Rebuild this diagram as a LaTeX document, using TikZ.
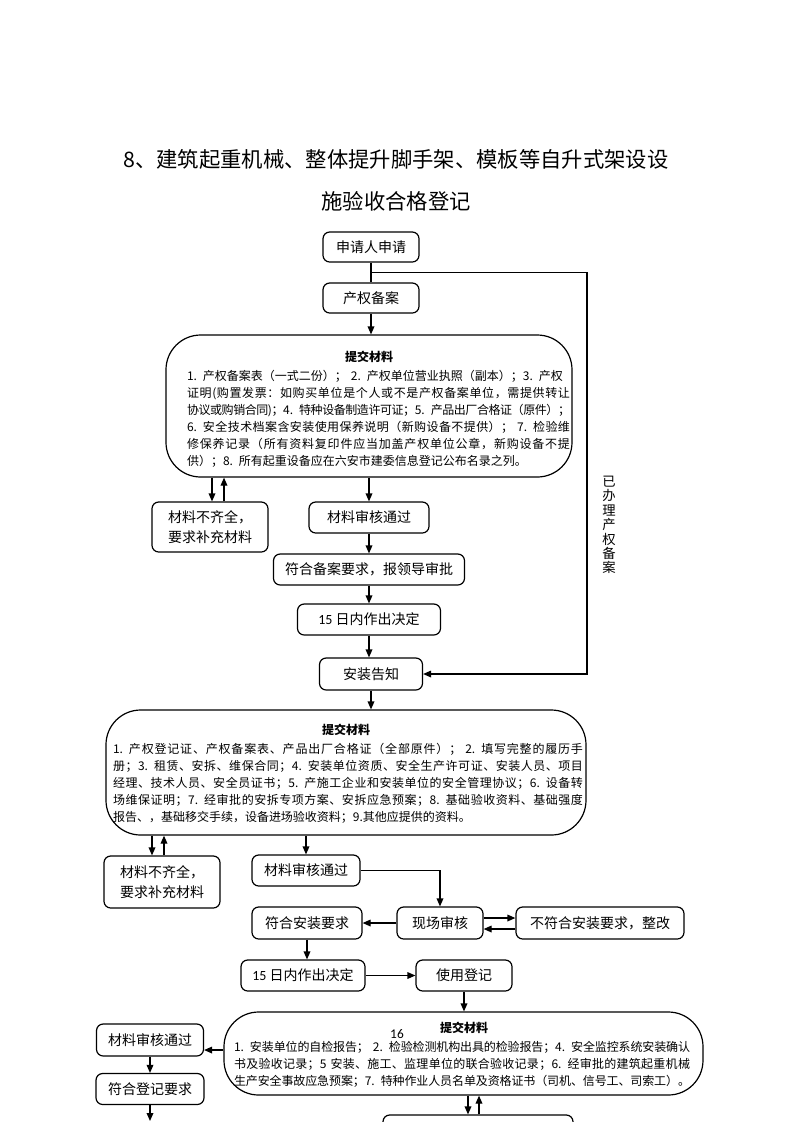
\documentclass[tikz,border=0pt]{standalone}
\usepackage{fontspec}
\setmainfont{Noto Sans CJK SC}
\newfontfamily\carl{Carlito}
\usetikzlibrary{arrows.meta}
% inter-character glue so that CJK lines can be justified
\XeTeXinterchartokenstate=1
\newcount\cjkc
\def\setcjk#1#2{\cjkc=#1 \loop \XeTeXcharclass\cjkc=7 \advance\cjkc by 1 \ifnum\cjkc<#2 \repeat}
\setcjk{"4E00}{"A000}
\setcjk{"3000}{"3040}
\setcjk{"FF00}{"FFF0}
\XeTeXinterchartoks 7 7 = {\hskip 0pt plus 2pt minus 0.6pt\relax}
\XeTeXinterchartoks 7 0 = {\hskip 0pt plus 2pt minus 0.6pt\relax}
\XeTeXinterchartoks 0 7 = {\hskip 0pt plus 2pt minus 0.6pt\relax}
\newcommand\jline[1]{\par\noindent\hbox to\linewidth{#1}}
\newcommand\lline[1]{\par\noindent\hbox to\linewidth{#1\hfil}}
\tikzset{
  wh/.style 2 args={minimum width=#1*0.75pt, minimum height=#2*0.75pt},
  sbox/.style={draw=black, line width=0.9pt, rounded corners=5pt, inner sep=0pt,
    font=\fontsize{10.5}{15.5}\selectfont, align=center},
  bbox/.style={draw=black, line width=0.9pt, rounded corners=26pt, inner sep=0pt},
  arr/.style={line width=0.9pt, -{Triangle[length=6pt,width=5pt]}},
  ln/.style={line width=0.9pt},
  btext/.style={inner sep=0pt, anchor=north, font=\fontsize{9}{12.75}\selectfont},
  bhead/.style={inner sep=0pt, font=\fontsize{9}{12}\selectfont\bfseries},
}
\begin{document}
\begin{tikzpicture}[x=0.75pt,y=-0.75pt]
\fill[white] (0,0) rectangle (793,1122);
\useasboundingbox (0,0) rectangle (793,1122);
% title
\node[inner sep=0pt, font=\fontsize{16}{20}\selectfont] (t1) at (396,159) {8、建筑起重机械、整体提升脚手架、模板等自升式架设设};
\node[inner sep=0pt, font=\fontsize{16}{20}\selectfont] (t2) at (396,201) {施验收合格登记};
% first part
\node[sbox, wh={96}{30}] (A) at (371,247) {申请人申请};
\node[sbox, wh={96}{30}] (B) at (371,298) {产权备案};
\node[bbox, wh={406}{142}] (BB1) at (369,406) {};
\node[bhead] (h1) at (369,357) {提交材料};
\node[btext, text width=287.25pt] (x1) at (378.5,363) {%
\lline{1. 产权备案表（一式二份）； 2. 产权单位营业执照（副本）；3. 产权}%
\jline{证明(购置发票：如购买单位是个人或不是产权备案单位，需提供转让}%
\jline{协议或购销合同)；4. 特种设备制造许可证；5. 产品出厂合格证（原件）；}%
\jline{6. 安全技术档案含安装使用保养说明（新购设备不提供）； 7. 检验维}%
\jline{修保养记录（所有资料复印件应当加盖产权单位公章，新购设备不提}%
\lline{供）；8. 所有起重设备应在六安市建委信息登记公布名录之列。}};
\node[sbox, wh={116}{50}] (C1) at (210,527) {材料不齐全，\\要求补充材料};
\node[sbox, wh={120}{31}] (D1) at (369,517.5) {材料审核通过};
\node[sbox, wh={191}{31}] (E) at (369,569.5) {符合备案要求，报领导审批};
\node[sbox, wh={143}{31}] (F) at (369,619.5) {{\carl 15} 日内作出决定};
\node[sbox, wh={103}{32}] (G) at (371,674) {安装告知};
\coordinate (br) at (371,272.5);
\coordinate (lc) at (587,272.5);
\node[inner sep=0pt, font=\fontsize{10}{10.8}\selectfont, align=center] (vt) at (609,525) {已\\办\\理\\产\\权\\备\\案};
\coordinate (c1d) at (212,0);
\coordinate (c1u) at (224,0);
% second part
\node[bbox, wh={480}{125}] (BB2) at (346,772.5) {};
\node[bhead] (h2) at (346,730) {提交材料};
\node[btext, text width=352.5pt] (x2) at (348,736) {%
\jline{1. 产权登记证、产权备案表、产品出厂合格证（全部原件）； 2. 填写完整的履历手}%
\jline{册；3. 租赁、安拆、维保合同；4. 安装单位资质、安全生产许可证、安装人员、项目}%
\jline{经理、技术人员、安全员证书；5. 产施工企业和安装单位的安全管理协议；6. 设备转}%
\jline{场维保证明；7. 经审批的安拆专项方案、安拆应急预案；8. 基础验收资料、基础强度}%
\lline{报告、，基础移交手续，设备进场验收资料；9.其他应提供的资料。}};
\node[sbox, wh={116}{52}] (C2) at (162,882) {材料不齐全，\\要求补充材料};
\node[sbox, wh={108}{31}] (D2) at (306,870.5) {材料审核通过};
\node[sbox, wh={86}{32}] (H) at (440,923) {现场审核};
\node[sbox, wh={110}{32}] (I) at (307,923) {符合安装要求};
\node[sbox, wh={168}{32}] (J) at (600,923) {不符合安装要求，整改};
\node[sbox, wh={124}{31}] (K) at (303,975.5) {{\carl 15} 日内作出决定};
\node[sbox, wh={96}{31}] (L) at (464,975.5) {使用登记};
\coordinate (c2d) at (152,0);
\coordinate (c2u) at (164,0);
% third part
\node[bbox, wh={479}{83}] (BB3) at (463.5,1053.5) {};
\node[bhead] (h3) at (464,1028) {提交材料};
\node[inner sep=0pt, font=\carl\fontsize{10}{12}\selectfont] (pg) at (397,1034) {16};
\node[btext, text width=342pt] (x3) at (462,1034) {%
\jline{1. 安装单位的自检报告； 2. 检验检测机构出具的检验报告；4. 安全监控系统安装确认}%
\jline{书及验收记录；5 安装、施工、监理单位的联合验收记录；6. 经审批的建筑起重机械}%
\jline{生产安全事故应急预案；7. 特种作业人员名单及资格证书（司机、信号工、司索工）。}};
\node[sbox, wh={107}{32}] (M) at (150,1040) {材料审核通过};
\node[sbox, wh={108}{31}] (N) at (150,1089) {符合登记要求};
\node[sbox, wh={190}{60}] (O) at (478,1145) {};
\coordinate (nend) at (150,1121);
\coordinate (c3d) at (468,0);
\coordinate (c3u) at (479,0);
% connectors part 1
\draw[ln] (A.south) -- (B.north);
\draw[arr] (br) -- (lc) |- (G.east);
\draw[arr] (B.south) -- (B.south |- BB1.north);
\draw[arr] (c1d |- BB1.south) -- (c1d |- C1.north);
\draw[arr] (c1u |- C1.north) -- (c1u |- BB1.south);
\draw[arr] (D1.north |- BB1.south) -- (D1.north);
\draw[arr] (D1.south) -- (E.north);
\draw[arr] (E.south) -- (F.north);
\draw[arr] (F.south) -- (F.south |- G.north);
\draw[arr] (G.south) -- (G.south |- BB2.north);
% connectors part 2
\draw[arr] (c2d |- BB2.south) -- (c2d |- C2.north);
\draw[arr] (c2u |- C2.north) -- (c2u |- BB2.south);
\draw[arr] (D2.north |- BB2.south) -- (D2.north);
\draw[arr] (D2.east) -| (H.north);
\draw[arr] (H.west) -- (I.east);
\draw[arr] ([yshift=3.75pt]H.east) -- ([yshift=3.75pt]J.west);
\draw[arr] ([yshift=-4.5pt]J.west) -- ([yshift=-4.5pt]H.east);
\draw[arr] (I.south) -- (I.south |- K.north);
\draw[arr] (K.east) -- (L.west);
\draw[arr] (L.south) -- (L.south |- BB3.north);
% connectors part 3
\draw[arr] ([yshift=2.6pt]BB3.west) -- ([yshift=2.6pt]BB3.west -| M.east);
\draw[arr] (M.south) -- (N.north);
\draw[arr] (N.south) -- (nend);
\draw[arr] (c3d |- BB3.south) -- (c3d |- O.north);
\draw[arr] (c3u |- O.north) -- (c3u |- BB3.south);
\end{tikzpicture}
\end{document}
